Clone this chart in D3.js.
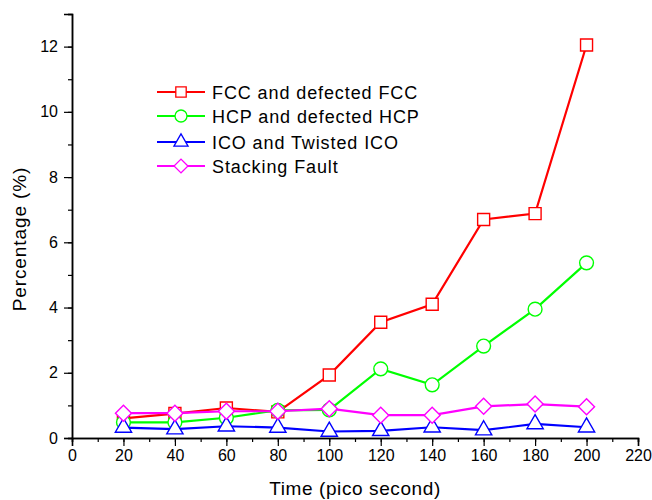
<!DOCTYPE html>
<html><head><meta charset="utf-8">
<script src="https://cdn.jsdelivr.net/npm/d3@7"></script>
<style>body{margin:0;background:#fff;} text{font-family:"Liberation Sans",Arial,sans-serif;}</style>
</head><body>
<svg id="c" width="652" height="500"></svg>
<script>
const times = [20,40,60,80,100,120,140,160,180,200];
const fcc = [0.6,0.75,0.92,0.8,1.93,3.55,4.1,6.7,6.88,12.05];
const hcp = [0.48,0.48,0.62,0.85,0.86,2.12,1.63,2.82,3.95,5.37];
const ico = [0.32,0.27,0.36,0.32,0.2,0.22,0.33,0.24,0.43,0.33];
const sf  = [0.76,0.76,0.82,0.82,0.9,0.7,0.7,0.97,1.04,0.96];
const seriesNames = ["FCC and defected FCC","HCP and defected HCP","ICO and Twisted ICO","Stacking Fault"];
const seriesColors = ["#ff0000","#00ff00","#0000ff","#ff00ff"];
const seriesSymbols = [d3.symbolSquare, d3.symbolCircle, d3.symbolTriangle, d3.symbolSquare];
const symbolRot = [0,0,0,45];
const symbolSizes = [144, 150, 115, 128];
const xTicks = [0,20,40,60,80,100,120,140,160,180,200,220];
const yTicks = [0,2,4,6,8,10,12];

const svg = d3.select("#c");
const x = d3.scaleLinear().domain([0,220]).range([72,638]);
const y = d3.scaleLinear().domain([0,13]).range([438,14]);

const gx = svg.append("g").attr("transform","translate(0,438)");
gx.call(d3.axisBottom(x).tickValues(d3.range(0,221,10)).tickSize(4).tickFormat(""));
const gx2 = svg.append("g").attr("transform","translate(0,438)");
gx2.call(d3.axisBottom(x).tickValues(xTicks).tickSize(8).tickPadding(4).tickFormat(d3.format("d")));
const gy = svg.append("g").attr("transform","translate(72,0)");
gy.call(d3.axisLeft(y).tickValues(d3.range(0,13.01,1)).tickSize(4).tickFormat(""));
const gy2 = svg.append("g").attr("transform","translate(72,0)");
gy2.call(d3.axisLeft(y).tickValues(yTicks).tickSize(8).tickPadding(6).tickFormat(d3.format("d")));
svg.selectAll(".domain").attr("stroke","#000").attr("stroke-width",1.5);
svg.selectAll(".tick line").attr("stroke","#000").attr("stroke-width",1.2);
svg.selectAll(".tick text").attr("font-size",16).attr("fill","#000").style("font-family","Liberation Sans, Arial, sans-serif");

svg.append("text").attr("x",355).attr("y",495).attr("text-anchor","middle").attr("font-size",19).attr("letter-spacing",0.6).text("Time (pico second)");
svg.append("text").attr("transform","translate(26,239) rotate(-90)").attr("text-anchor","middle").attr("font-size",19).attr("letter-spacing",0.9).text("Percentage (%)");

const allData = [fcc,hcp,ico,sf];
const line = d3.line().x((d,i)=>x(times[i])).y(d=>y(d));
allData.forEach((vals,k)=>{
  const g = svg.append("g");
  g.append("path").attr("d",line(vals)).attr("fill","none").attr("stroke",seriesColors[k]).attr("stroke-width",2.2);
  g.selectAll("path.m").data(vals).enter().append("path").attr("class","m")
    .attr("transform",(d,i)=>`translate(${x(times[i])},${y(d)}) rotate(${symbolRot[k]})`)
    .attr("d",d3.symbol().type(seriesSymbols[k]).size(symbolSizes[k]))
    .attr("fill","#fff").attr("stroke",seriesColors[k]).attr("stroke-width",1.4);
});

const legY = [92,116,142,166];
seriesNames.forEach((n,k)=>{
  const g = svg.append("g");
  g.append("line").attr("x1",157).attr("x2",205).attr("y1",legY[k]).attr("y2",legY[k]).attr("stroke",seriesColors[k]).attr("stroke-width",2);
  g.append("path").attr("transform",`translate(181,${legY[k]}) rotate(${symbolRot[k]})`).attr("d",d3.symbol().type(seriesSymbols[k]).size(symbolSizes[k]*0.75))
    .attr("fill","#fff").attr("stroke",seriesColors[k]).attr("stroke-width",1.3);
  g.append("text").attr("x",212).attr("y",legY[k]+6.5).attr("font-size",18).attr("letter-spacing",0.9).text(n);
});
</script>
</body></html>
